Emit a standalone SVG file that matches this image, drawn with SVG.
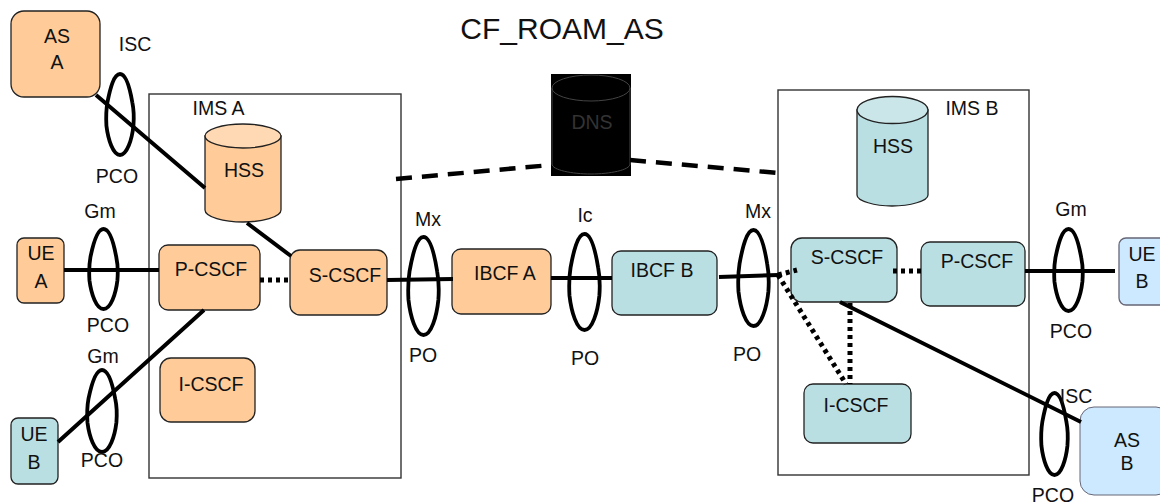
<svg xmlns="http://www.w3.org/2000/svg" width="1160" height="504" viewBox="0 0 1160 504">
<defs>
<path id="ring" vector-effect="non-scaling-stroke" stroke-linejoin="round" d="M0 -1C.45 -1 .72 -.62 .88 -.3C1 -.1 1 .1 .96 .28C.85 .62 .5 1 0 1C-.5 1 -.85 .62 -.97 .28C-1 .1 -1 -.1 -.9 -.3C-.72 -.62 -.45 -1 0 -1Z"/>
</defs>
<style>
text{font-family:"Liberation Sans",Arial,sans-serif;font-size:19.500px;fill:#111;text-anchor:middle}
.o{fill:#FFCC99}.ot{fill:#FFD9B3}
.b{fill:#B9DFE3}.bt{fill:#CBE6E9}
.l{fill:#CCE9FF}
.n{stroke:#222;stroke-width:1.3}
.f{fill:#fff;stroke:#333;stroke-width:1.4}
.c{fill:none;stroke:#000;stroke-width:4}
.d{stroke-dasharray:4 4;stroke-width:5}
.k{stroke-dasharray:16 10;stroke-width:4.500}
use{fill:none;stroke:#000;stroke-width:3.800}
</style>
<rect width="1160" height="504" fill="#fff"/>
<g id="IMS-A-frame"><rect class="f" x="149" y="94" width="252" height="384"/><text x="218.500" y="115">IMS A</text></g>
<g id="IMS-B-frame"><rect class="f" x="778" y="90" width="251" height="385"/><text x="972" y="115">IMS B</text></g>
<text x="562" y="39" style="font-size:30px" id="title">CF_ROAM_AS</text>
<g id="AS-A"><rect class="o n" x="11" y="11" width="89" height="86" rx="13"/><text x="57" y="43">AS</text><text x="57" y="69">A</text></g>
<g id="HSS-A"><path class="o n" d="M205 136V210C205 217 224 222 243 222C262 222 281 217 281 210V136Z"/><ellipse class="ot n" cx="243" cy="136" rx="38" ry="12"/><text x="244" y="177">HSS</text></g>
<g id="UE-A"><rect class="o n" x="17" y="238" width="47" height="65" rx="7"/><text x="41" y="260">UE</text><text x="41" y="288">A</text></g>
<g id="P-CSCF-A"><rect class="o n" x="159" y="245" width="101" height="65" rx="9"/><text x="211" y="276">P-CSCF</text></g>
<g id="S-CSCF-A"><rect class="o n" x="290" y="250" width="97" height="65" rx="10"/><text x="345" y="282">S-CSCF</text></g>
<g id="I-CSCF-A"><rect class="o n" x="160" y="358" width="95" height="64" rx="11"/><text x="211" y="391">I-CSCF</text></g>
<g id="UE-B-left"><rect class="b n" x="11" y="418" width="47" height="66" rx="7"/><text x="34" y="441">UE</text><text x="34" y="469">B</text></g>
<g id="IBCF-A"><rect class="o n" x="452" y="249" width="99" height="65" rx="9"/><text x="505" y="280">IBCF A</text></g>
<g id="IBCF-B"><rect class="b n" x="612" y="251" width="105" height="64" rx="9"/><text x="662" y="277">IBCF B</text></g>
<g id="DNS"><rect x="551" y="74" width="80" height="102" fill="#000"/><path d="M552 88V164C552 170 572 174 591 174C610 174 630 170 630 164V88" fill="#000" stroke="#444"/><ellipse cx="591" cy="88" rx="39" ry="13" fill="#000" stroke="#444"/><text x="592" y="129" style="fill:#333">DNS</text></g>
<g id="HSS-B"><path class="b n" d="M857 110V195C857 201 875 206 892 206C910 206 928 201 928 195V110Z"/><ellipse class="bt n" cx="892.500" cy="110" rx="35.500" ry="13.500"/><text x="893" y="153">HSS</text></g>
<g id="S-CSCF-B"><rect class="b n" x="791" y="238" width="106" height="64" rx="11"/><text x="847" y="264">S-CSCF</text></g>
<g id="P-CSCF-B"><rect class="b n" x="921" y="242" width="104" height="64" rx="9"/><text x="977" y="268">P-CSCF</text></g>
<g id="I-CSCF-B"><rect class="b n" x="804" y="384" width="107" height="59" rx="9"/><text x="856" y="412">I-CSCF</text></g>
<g id="UE-B-right"><rect class="l" x="1119" y="238" width="50" height="67" rx="7" stroke="#667" stroke-width="1.300"/><text x="1142" y="261">UE</text><text x="1142" y="288">B</text></g>
<g id="AS-B"><rect class="l" x="1080" y="407" width="90" height="88" rx="14" stroke="#667" stroke-width="1"/><text x="1127" y="447">AS</text><text x="1127" y="470">B</text></g>
<g id="connectors">
<path class="c" d="M96 95L205 188M247 223L291 256M64 270H159M204 310L58 442M387 280L453 279M551 278H612M719 277L778 275M1025 271H1115M840 302L1081 422"/>
<path class="c d" d="M260 280H290M893 271H921M850 303V384M778 275L797 270M778 275L846 384"/>
<path class="c k" d="M396 179L551 165M630 160L778 173"/>
</g>
<g id="interfaces">
<use href="#ring" transform="translate(120 114.500) scale(14 40.500)"/>
<use href="#ring" transform="translate(103.500 269) scale(14.500 40)"/>
<use href="#ring" transform="translate(102 411) scale(15 41)"/>
<use href="#ring" transform="translate(423.500 286) scale(15.500 49)"/>
<use href="#ring" transform="translate(584.500 282) scale(15.500 48)"/>
<use href="#ring" transform="translate(753.500 278) scale(15.500 48)"/>
<use href="#ring" transform="translate(1068.500 270) scale(14.500 41)"/>
<use href="#ring" transform="translate(1054.500 434) scale(13.500 41)"/>
</g>
<g id="labels">
<text x="135" y="51">ISC</text><text x="117" y="183">PCO</text>
<text x="100" y="218">Gm</text><text x="108" y="332">PCO</text>
<text x="103" y="363">Gm</text><text x="102" y="467">PCO</text>
<text x="428" y="226">Mx</text><text x="423" y="362">PO</text>
<text x="585" y="222">Ic</text><text x="585" y="365">PO</text>
<text x="758" y="218">Mx</text><text x="747" y="361">PO</text>
<text x="1071" y="216">Gm</text><text x="1071" y="338">PCO</text>
<text x="1076" y="403">ISC</text><text x="1053" y="502">PCO</text>
</g>
</svg>
